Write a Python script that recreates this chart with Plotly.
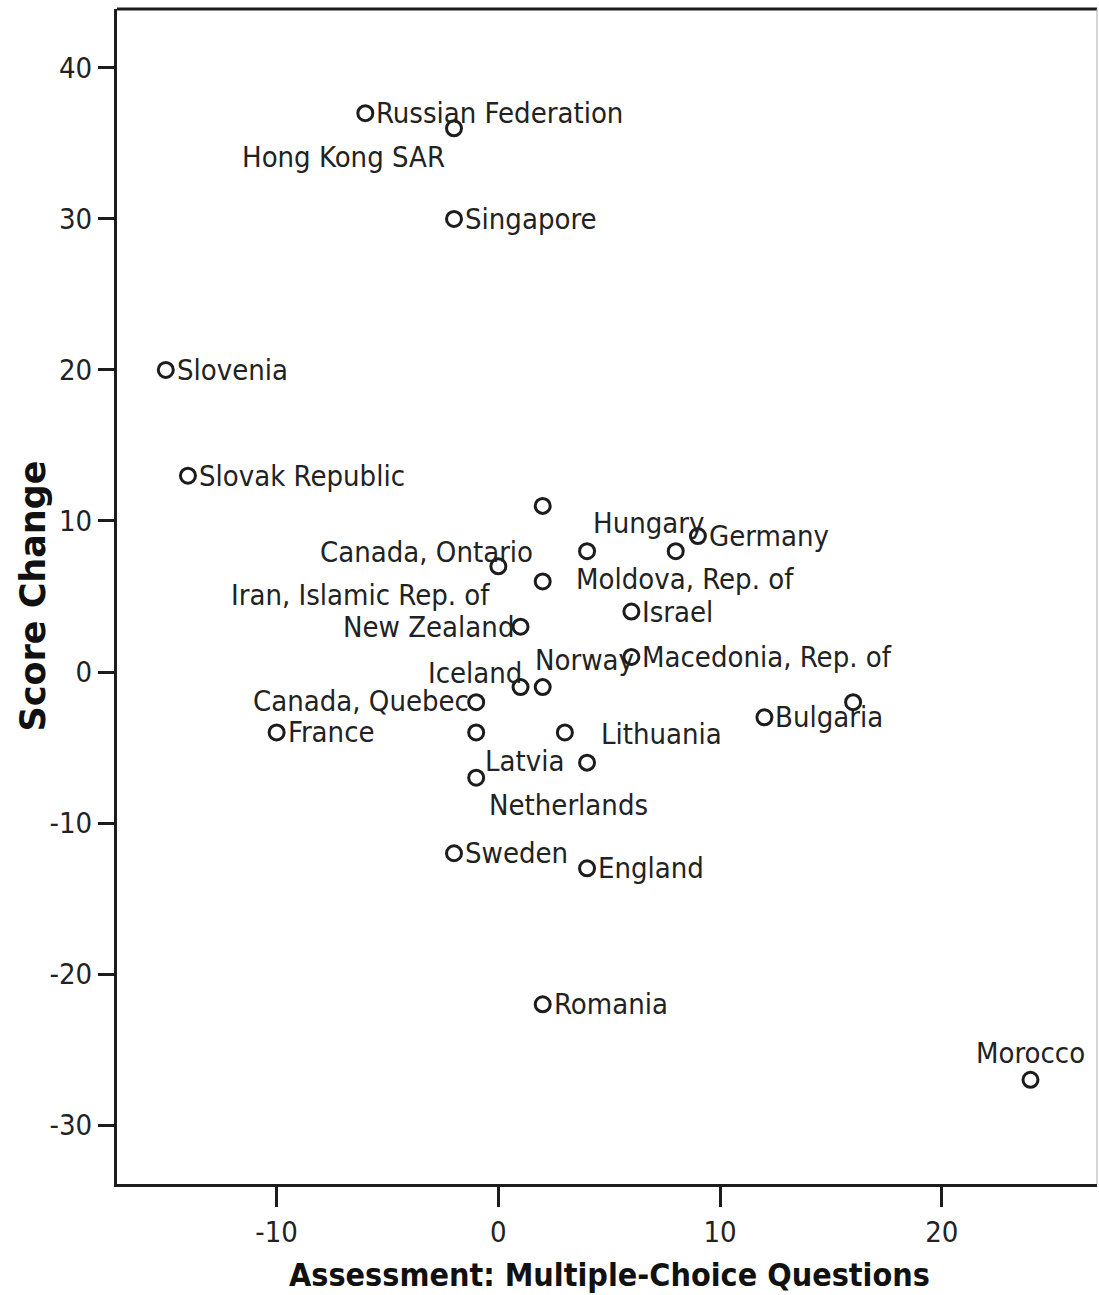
import plotly.graph_objects as go

# Country score changes vs. change on multiple-choice assessment items
countries = [
    "Russian Federation", "Hong Kong SAR", "Singapore", "Slovenia", "Slovak Republic",
    "", "Hungary", "Germany", "Canada, Ontario", "Moldova, Rep. of",
    "Iran, Islamic Rep. of", "Israel", "New Zealand", "Macedonia, Rep. of", "Norway",
    "Iceland", "Canada, Quebec", "", "Bulgaria", "France",
    "Latvia", "", "Lithuania", "Netherlands", "Sweden",
    "England", "Romania", "Morocco",
]
mc_change = [
    -6, -2, -2, -15, -14,
    2, 8, 9, 0, 4,
    2, 6, 1, 6, 2,
    1, -1, 16, 12, -10,
    -1, 3, 4, -1, -2,
    4, 2, 24,
]
score_change = [
    37, 36, 30, 20, 13,
    11, 8, 9, 7, 8,
    6, 4, 3, 1, -1,
    -1, -2, -2, -3, -4,
    -4, -4, -6, -7, -12,
    -13, -22, -27,
]

x_ticks = [-10, 0, 10, 20]
y_ticks = [-30, -20, -10, 0, 10, 20, 30, 40]

# label placement per point: (xanchor, xshift px, yshift px)
label_place = [
    ("left", 10, 0), ("right", -8, -29), ("left", 10, 0), ("left", 10, 0), ("left", 10, 0),
    ("left", 10, 0), ("right", 29, 28), ("left", 10, 0), ("right", 36, 14), ("left", -12, -28),
    ("right", -52, -14), ("left", 10, 0), ("right", -6, 0), ("left", 10, 0), ("left", -9, 27),
    ("right", 2, 14), ("right", -6, 1), ("left", 10, 0), ("left", 10, 0), ("left", 10, 0),
    ("left", 8, -29), ("left", 10, 0), ("left", 13, 29), ("left", 12, -27), ("left", 10, 0),
    ("left", 10, 0), ("left", 10, 0), ("center", 0, 27),
]

NARROW = "Liberation Sans Narrow, Arial Narrow, DejaVu Sans Condensed, sans-serif"
INK = "#1c1c1c"

fig = go.Figure()
fig.add_trace(go.Scatter(
    x=mc_change, y=score_change, mode="markers",
    marker=dict(symbol="circle-open", size=15, color=INK, line=dict(width=3, color=INK)),
    hovertext=countries, hoverinfo="text+x+y",
))

annotations = []
for name, xv, yv, (anc, dx, dy) in zip(countries, mc_change, score_change, label_place):
    if not name:
        continue
    annotations.append(dict(
        x=xv, y=yv, xref="x", yref="y", text=name, showarrow=False,
        xanchor=anc, yanchor="middle", xshift=dx, yshift=dy,
        font=dict(family=NARROW, size=29, color="#222222"), borderpad=0,
    ))

# axis titles
annotations.append(dict(
    x=0.5025, y=-0.0774, xref="paper", yref="paper", text="<b>Assessment: Multiple-Choice Questions</b>",
    showarrow=False, xanchor="center", yanchor="middle",
    font=dict(family=NARROW, size=32, color="#111111"),
))
annotations.append(dict(
    x=-0.0867, y=0.5, xref="paper", yref="paper", text="<b>Score Change</b>",
    showarrow=False, xanchor="center", yanchor="middle", textangle=-90,
    font=dict(family="DejaVu Sans, sans-serif", size=35, color="#111111"),
))

fig.update_layout(
    width=1099, height=1295,
    margin=dict(l=117, r=2, t=9, b=111),
    paper_bgcolor="white", plot_bgcolor="white",
    showlegend=False,
    annotations=annotations,
    shapes=[
        dict(type="line", xref="paper", yref="paper", x0=0, x1=1, y0=1, y1=1,
             line=dict(color=INK, width=3)),
        dict(type="line", xref="paper", yref="paper", x0=1, x1=1, y0=0, y1=1,
             line=dict(color="#aaaaaa", width=1)),
    ],
    xaxis=dict(
        range=[-17.2, 27.0], tickvals=x_ticks, ticktext=[str(v) for v in x_ticks],
        showgrid=False, zeroline=False, showline=True, linewidth=3, linecolor=INK,
        ticks="outside", ticklen=20, tickwidth=2.5, tickcolor=INK,
        tickfont=dict(family=NARROW, size=29, color="#222222"),
    ),
    yaxis=dict(
        range=[-33.9, 43.9], tickvals=y_ticks, ticktext=[str(v) for v in y_ticks],
        showgrid=False, zeroline=False, showline=True, linewidth=3, linecolor=INK,
        ticks="outside", ticklen=16, tickwidth=2.5, tickcolor=INK,
        tickfont=dict(family=NARROW, size=29, color="#222222"),
    ),
)

fig.write_html("out.html")
